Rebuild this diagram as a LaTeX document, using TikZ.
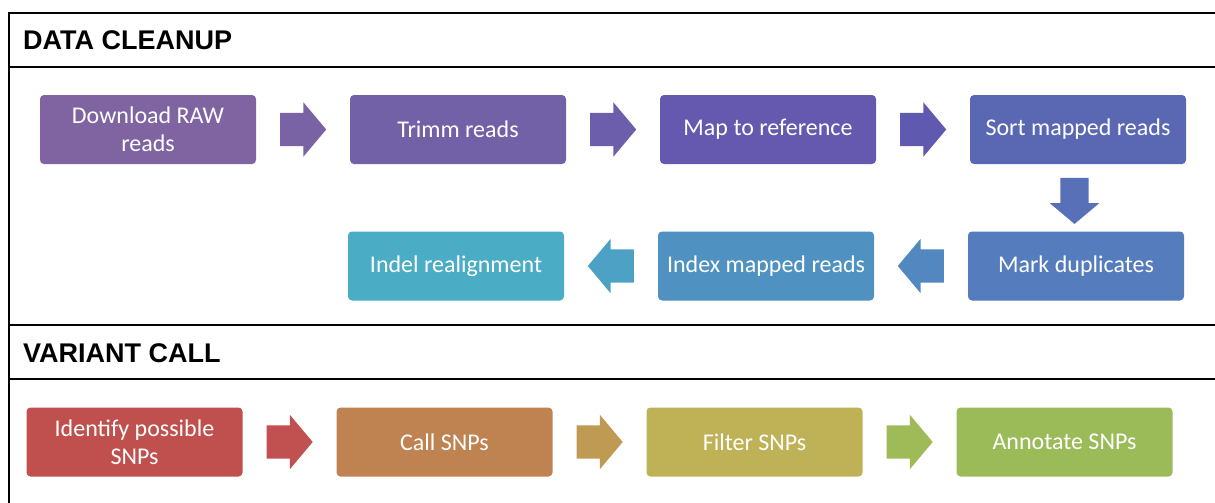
\documentclass[tikz,border=0pt]{standalone}
\usepackage{fontspec}
\setmainfont{Carlito}
\newfontfamily\hdrfont{Liberation Sans}
\usetikzlibrary{shapes.arrows,calc}
\definecolor{cA}{HTML}{8064A2}
\definecolor{cB}{HTML}{7361A8}
\definecolor{cC}{HTML}{6459AE}
\definecolor{cD}{HTML}{5A67B2}
\definecolor{cE}{HTML}{557CBD}
\definecolor{cF}{HTML}{4F91C0}
\definecolor{cG}{HTML}{4BACC6}
\definecolor{aA}{HTML}{7A63A5}
\definecolor{aB}{HTML}{6C5EAB}
\definecolor{aC}{HTML}{5F5AB0}
\definecolor{aD}{HTML}{5770B8}
\definecolor{aE}{HTML}{5287BF}
\definecolor{aF}{HTML}{4DA1C4}
\definecolor{vA}{HTML}{C0504D}
\definecolor{vB}{HTML}{BF8251}
\definecolor{vC}{HTML}{BFB156}
\definecolor{vD}{HTML}{9BBB59}
\definecolor{wA}{HTML}{C05150}
\definecolor{wB}{HTML}{BF9A53}
\definecolor{wC}{HTML}{9FBB58}
\begin{document}
\begin{tikzpicture}[x=1pt,y=-1pt,
  stepbox/.style={fill=#1, rounded corners=4pt, minimum width=216pt, minimum height=69pt,
    text=white, font=\fontsize{24}{28}\selectfont, align=center, inner sep=0pt},
  blockarrow/.style={single arrow, fill=#1, draw=none, minimum height=46pt,
    single arrow head extend=10.5pt, single arrow tip angle=100, inner xsep=0pt, inner ysep=16.5pt, anchor=tail},
  vblockarrow/.style={blockarrow=#1, inner xsep=14pt, inner ysep=0pt, shape border rotate=270},
  frameline/.style={line width=2.5pt, black},
  hdr/.style={anchor=base west, inner sep=0pt, font=\hdrfont\bfseries\fontsize{27}{30}\selectfont}]
\useasboundingbox (0,0) rectangle (1215,503);
% frame
\coordinate (tl) at (9,13);
\coordinate (bl) at (9,503);
\draw[frameline] (1216,13) -- (tl) -- (bl);
\draw[frameline] (9,67) -- (1216,67);
\draw[frameline] (9,325) -- (1216,325);
\draw[frameline] (9,379) -- (1216,379);
\node[hdr] (h1) at (23,49) {DATA CLEANUP};
\node[hdr] (h2) at (23,362) {VARIANT CALL};
% data cleanup
\node[stepbox=cA] (b1) at (148,129.5) {Download RAW\\reads};
\node[stepbox=cB] (b2) at (458,129.5) {Trimm reads};
\node[stepbox=cC] (b3) at (768,129.5) {Map to reference};
\node[stepbox=cD] (b4) at (1078,129.5) {Sort mapped reads};
\node[stepbox=cE] (b5) at (1076,266) {Mark duplicates};
\node[stepbox=cF] (b6) at (766,266) {Index mapped reads};
\node[stepbox=cG] (b7) at (456,266) {Indel realignment};
\node[blockarrow=aA] (a1) at ($(b1.east)!0.5!(b2.west)+(-23,0)$) {};
\node[blockarrow=aB] (a2) at ($(b2.east)!0.5!(b3.west)+(-23,0)$) {};
\node[blockarrow=aC] (a3) at ($(b3.east)!0.5!(b4.west)+(-23,0)$) {};
\node[vblockarrow=aD] (a4) at ($(b4.south)!0.5!(b5.north)+(-2.5,-20)$) {};
\node[blockarrow=aE, shape border rotate=180] (a5) at ($(b5.west)!0.5!(b6.east)+(23,0)$) {};
\node[blockarrow=aF, shape border rotate=180] (a6) at ($(b6.west)!0.5!(b7.east)+(23,0)$) {};
% variant call
\node[stepbox=vA] (v1) at (134.5,442) {Identify possible\\SNPs};
\node[stepbox=vB] (v2) at (444.5,442) {Call SNPs};
\node[stepbox=vC] (v3) at (754.5,442) {Filter SNPs};
\node[stepbox=vD] (v4) at (1064.5,442) {Annotate SNPs};
\node[blockarrow=wA] (w1) at ($(v1.east)!0.5!(v2.west)+(-23,0)$) {};
\node[blockarrow=wB] (w2) at ($(v2.east)!0.5!(v3.west)+(-23,0)$) {};
\node[blockarrow=wC] (w3) at ($(v3.east)!0.5!(v4.west)+(-23,0)$) {};
\end{tikzpicture}
\end{document}
